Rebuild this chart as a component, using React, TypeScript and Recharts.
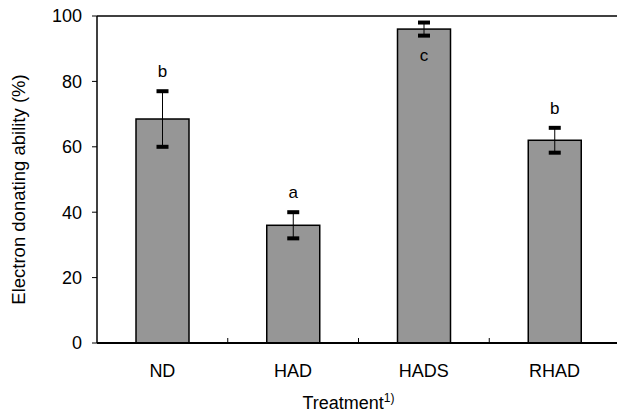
import React from 'react';
import { ComposedChart, Bar, XAxis, YAxis, ReferenceLine } from 'recharts';

const categories = ['ND', 'HAD', 'HADS', 'RHAD'];
const means = [68.5, 36, 96, 62];
const errors = [8.5, 4, 2, 3.8];
const letters = ['b', 'a', 'c', 'b'];
const yTicks = [0, 20, 40, 60, 80, 100];

const data = categories.map((name, i) => ({ name, value: means[i], err: errors[i], letter: letters[i] }));

const FONT = 'Liberation Sans, Arial, Helvetica, sans-serif';
const CHART_W = 640;
const CHART_H = 414;
const MARGIN = { top: 16, right: 20, bottom: 0, left: 0 };
const Y_AXIS_W = 97;
const X_AXIS_H = 71;
const BAND = (CHART_W - MARGIN.left - MARGIN.right - Y_AXIS_W) / categories.length;

const BarWithError = (props: any) => {
  const { x, y, width, height, payload } = props;
  const k = height / payload.value;
  const cx = x + width / 2;
  const yHi = y - payload.err * k;
  const yLo = y + payload.err * k;
  const below = payload.value + payload.err > 90;
  const ly = below ? yLo + 25 : yHi - 14;
  return (
    <g>
      <rect x={x} y={y} width={width} height={height} fill="#969696" stroke="#000" strokeWidth={1.5} />
      <line x1={cx} x2={cx} y1={yHi} y2={yLo} stroke="#000" strokeWidth={1} />
      <rect x={cx - 6} y={yHi - 2} width={12} height={4} fill="#000" />
      <rect x={cx - 6} y={yLo - 2} width={12} height={4} fill="#000" />
      <text x={cx} y={ly} textAnchor="middle" fontSize={17} fontFamily={FONT} fill="#000">
        {payload.letter}
      </text>
    </g>
  );
};

const XTick = (props: any) => {
  const { x, y, payload, index } = props;
  return (
    <g>
      {index > 0 && (
        <line x1={x - BAND / 2} x2={x - BAND / 2} y1={y} y2={y - 5} stroke="#000" strokeWidth={1} />
      )}
      <text x={x} y={y + 34} textAnchor="middle" fontSize={18} fontFamily={FONT} fill="#000">
        {payload.value}
      </text>
    </g>
  );
};

const YLabel = (props: any) => {
  const vb = props.viewBox || {};
  const cy = vb.y + vb.height / 2 + 10;
  return (
    <text
      x={18}
      y={cy}
      transform={`rotate(-90, 18, ${cy})`}
      textAnchor="middle"
      dominantBaseline="central"
      fontSize={18.5}
      fontFamily={FONT}
      fill="#000"
    >
      Electron donating ability (%)
    </text>
  );
};

const XLabel = (props: any) => {
  const vb = props.viewBox || {};
  const cx = vb.x + vb.width / 2 - 10;
  return (
    <text x={cx} y={409} textAnchor="middle" fontSize={18} fontFamily={FONT} fill="#000">
      Treatment
      <tspan fontSize={12} dy={-7}>1)</tspan>
    </text>
  );
};

export default function App() {
  return (
    <div style={{ position: 'absolute', left: 0, top: 0, width: 617, height: 414, overflow: 'hidden', background: '#fff' }}>
      <ComposedChart width={CHART_W} height={CHART_H} data={data} margin={MARGIN}>
        <XAxis
          dataKey="name"
          height={X_AXIS_H}
          axisLine={{ stroke: '#000', strokeWidth: 2 }}
          tickLine={false}
          tickSize={0}
          tickMargin={0}
          tick={<XTick />}
          interval={0}
          label={<XLabel />}
        />
        <YAxis
          width={Y_AXIS_W}
          domain={[0, 100]}
          ticks={yTicks}
          interval={0}
          axisLine={{ stroke: '#000', strokeWidth: 1.5 }}
          tickLine={{ stroke: '#000', strokeWidth: 1 }}
          tickSize={5}
          tickMargin={10}
          tick={{ fontSize: 18, fontFamily: FONT, fill: '#000' }}
          label={<YLabel />}
        />
        <ReferenceLine y={100} stroke="#000" strokeWidth={1.5} />
        <Bar dataKey="value" barSize={53} isAnimationActive={false} shape={<BarWithError />} />
      </ComposedChart>
    </div>
  );
}
